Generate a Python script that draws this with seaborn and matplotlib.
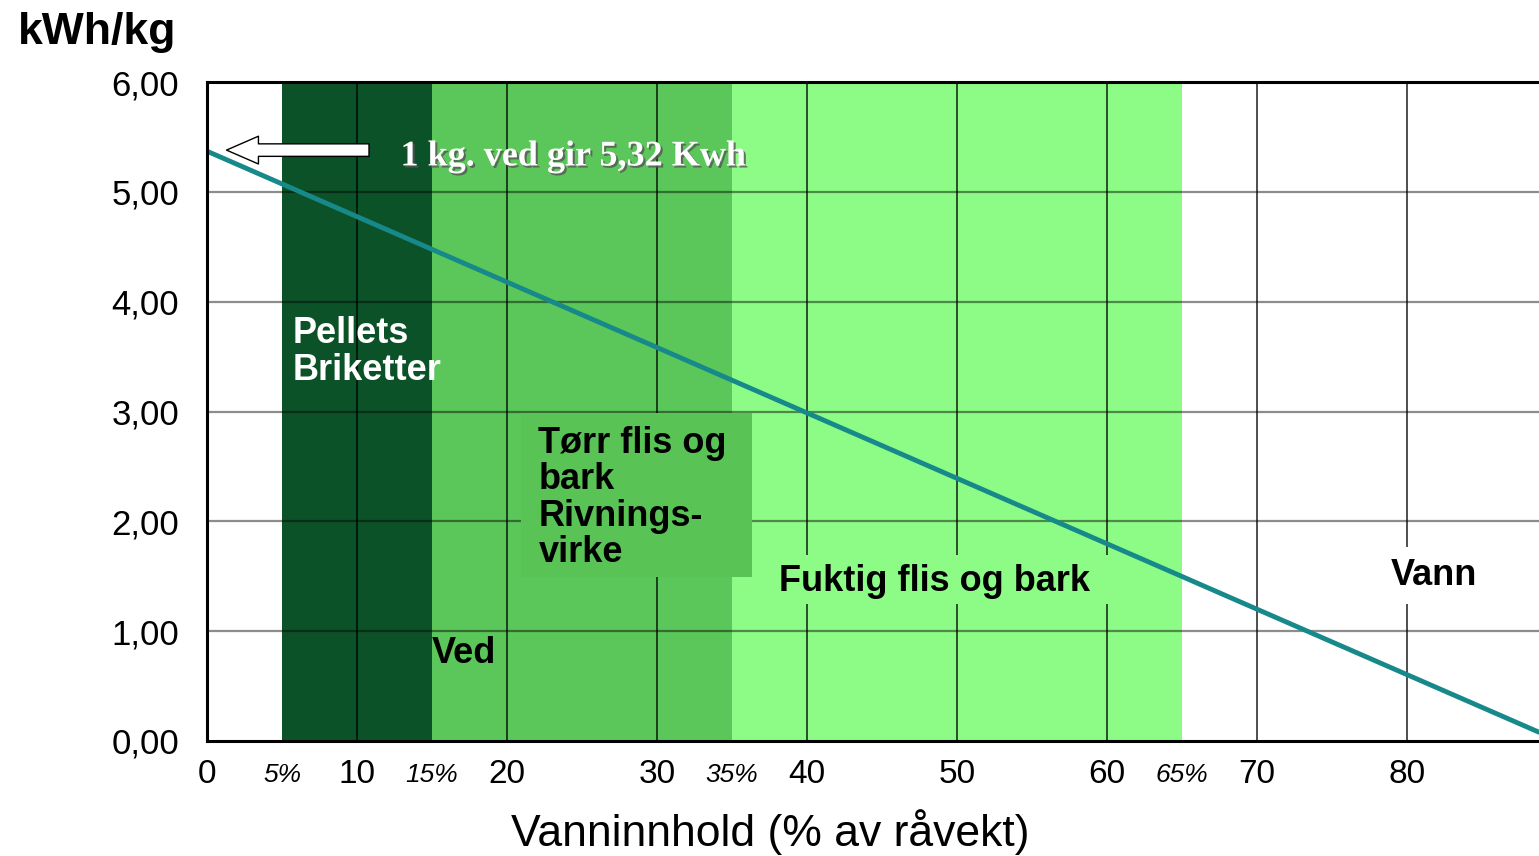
import matplotlib
matplotlib.use("Agg")
import matplotlib.pyplot as plt
import matplotlib.patheffects as pe
from matplotlib.patches import Rectangle
import seaborn as sns
import pandas as pd
import numpy as np

# energy content line
moisture = [0, 88.8]
energy = [5.37, 0.08]

# moisture bands
band_start = [5, 15, 35]
band_end = [15, 35, 65]
band_colors = ["#0c5228", "#5bc75a", "#8cfc86"]

major_ticks = [0, 10, 20, 30, 40, 50, 60, 70, 80]
pct_ticks = [5, 15, 35, 65]
pct_labels = ["5%", "15%", "35%", "65%"]
y_ticks = [0, 1, 2, 3, 4, 5, 6]
y_labels = ["0,00", "1,00", "2,00", "3,00", "4,00", "5,00", "6,00"]

sns.set_style("white")
plt.rcParams["font.family"] = ["Liberation Sans", "DejaVu Sans"]
plt.rcParams["text.color"] = "black"
plt.rcParams["xtick.color"] = "black"
plt.rcParams["ytick.color"] = "black"

fig = plt.figure(figsize=(15.39, 8.56), dpi=100)
ax = fig.add_axes([207 / 1539, 1 - 741 / 856, 1 - 207 / 1539, (741 - 82) / 856])

for x0, x1, c in zip(band_start, band_end, band_colors):
    ax.axvspan(x0, x1, color=c, lw=0, zorder=0)

# grid
for x in major_ticks[1:]:
    ax.axvline(x, color="black", alpha=0.75, lw=1.3, zorder=1)
for y in y_ticks[1:-1]:
    ax.axhline(y, color="black", alpha=0.45, lw=1.6, zorder=1)

df = pd.DataFrame({"moisture": moisture, "energy": energy})
sns.lineplot(data=df, x="moisture", y="energy", color="#17898a", lw=3.5, ax=ax, zorder=5)

ax.set_xlim(0, 88.8)
ax.set_ylim(0, 6)
ax.set_xticks(major_ticks)
ax.set_xticklabels([str(t) for t in major_ticks], fontsize=24)
ax.set_xticks(pct_ticks, minor=True)
ax.set_xticklabels(pct_labels, minor=True, fontsize=19, style="italic")
ax.set_yticks(y_ticks)
ax.set_yticklabels(y_labels, fontsize=25)
ax.tick_params(axis="x", which="both", length=0, pad=13)
ax.tick_params(axis="x", which="minor", pad=16)
ax.tick_params(axis="y", length=0, pad=20)
ax.set_xlabel("")
ax.set_ylabel("")

for s in ["left", "bottom", "top"]:
    ax.spines[s].set_visible(True)
    ax.spines[s].set_color("black")
    ax.spines[s].set_linewidth(2.2)
ax.spines["right"].set_visible(False)
ax.spines["left"].set_zorder(6)

# arrow + note
ax.annotate("", xy=(1.3, 5.38), xytext=(10.8, 5.38),
            arrowprops=dict(arrowstyle="simple,head_length=1.15,head_width=1.0,tail_width=0.45",
                            fc="white", ec="black", lw=1.0, mutation_scale=20, shrinkA=0, shrinkB=0),
            zorder=7)
ax.text(12.9, 5.24, "1 kg. ved gir 5,32 Kwh", fontsize=26, fontweight="bold", color="white",
        family=["Liberation Serif", "DejaVu Serif"], va="baseline", zorder=8,
        path_effects=[pe.withSimplePatchShadow(offset=(1.5, -1.5), shadow_rgbFace="#555555", alpha=0.8)])

# label backgrounds that hide the grid
ax.add_patch(Rectangle((20.9, 1.49), 15.4, 1.5, color="#59c355", lw=0, zorder=3))
ax.add_patch(Rectangle((37.0, 1.25), 23.2, 0.44, color="#8cfc86", lw=0, zorder=3))

# region labels (multi-line text: y is the baseline of the last line)
ax.text(5.7, 3.29, "Pellets\nBriketter", fontsize=26, fontweight="bold", color="white",
        va="baseline", linespacing=1.05, zorder=8)
ax.text(22.1, 1.63, "Tørr flis og\nbark\nRivnings-\nvirke", fontsize=26, fontweight="bold",
        color="black", va="baseline", linespacing=1.05, zorder=8)
ax.text(15.0, 0.71, "Ved", fontsize=26, fontweight="bold", color="black", va="baseline", zorder=8)
ax.text(38.1, 1.37, "Fuktig flis og bark", fontsize=26, fontweight="bold", color="black",
        va="baseline", zorder=8)
ax.text(78.9, 1.42, "Vann", fontsize=26, fontweight="bold", color="black", va="baseline", zorder=8,
        bbox=dict(fc="white", ec="none", pad=8))

fig.text(18 / 1539, 1 - 44 / 856, "kWh/kg", fontsize=32, fontweight="bold", va="baseline")
fig.text(770 / 1539, 1 - 846 / 856, "Vanninnhold (% av råvekt)", fontsize=32, ha="center", va="baseline")

fig.savefig("out.png", dpi=100)
